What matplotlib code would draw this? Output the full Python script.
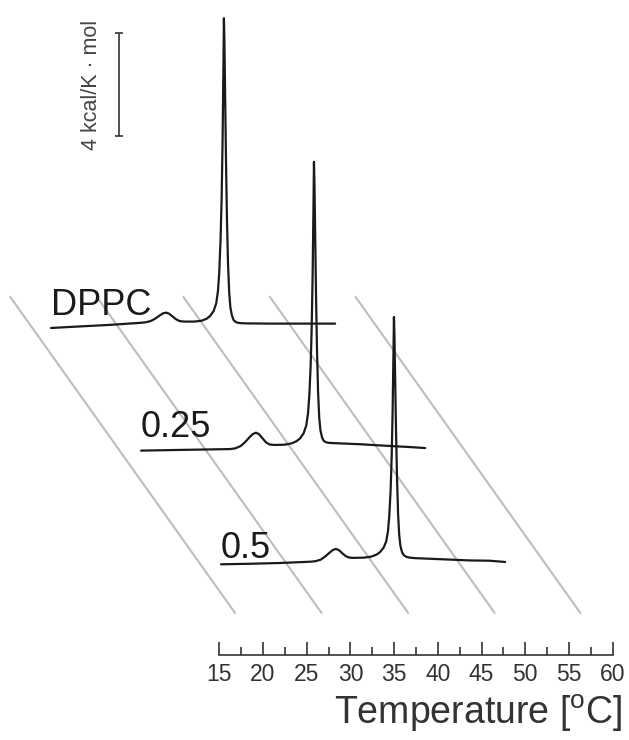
import matplotlib
matplotlib.use("Agg")
import matplotlib.pyplot as plt
from matplotlib.ticker import MultipleLocator

plt.rcParams['font.family'] = ['Liberation Sans', 'DejaVu Sans']
plt.rcParams['mathtext.default'] = 'regular'

# ---------------- data ----------------
labels = ["DPPC", "0.25", "0.5"]

# temperature grid of each thermogram (frame of the front trace), deg C
temps = [15.2, 18.5, 21.9, 25.4,
         26.0, 26.6, 27.1, 27.6, 28.0, 28.35, 28.7, 29.1, 29.5, 29.9, 30.4,
         31.6, 32.4, 33.0, 33.4, 33.8, 34.1, 34.3, 34.45, 34.6, 34.72, 34.83, 34.93,
         34.98,
         35.04, 35.12, 35.22, 35.33, 35.45, 35.58, 35.72, 35.9, 36.1, 36.4, 36.8, 37.4,
         40.2, 43.7, 45.9, 47.7]

# excess heat capacity, kcal/(K mol)
cp_dppc = [0.0, 0.06, 0.12, 0.20,
           0.22, 0.27, 0.36, 0.48, 0.57, 0.60, 0.56, 0.45, 0.34, 0.27, 0.25,
           0.25, 0.28, 0.36, 0.47, 0.66, 0.96, 1.45, 2.2, 3.5, 5.1, 7.4, 10.4,
           12.1,
           11.1, 9.0, 6.5, 4.2, 2.5, 1.4, 0.8, 0.48, 0.30, 0.22, 0.19, 0.18,
           0.17, 0.17, 0.17, 0.17]
cp_025 = [0.0, 0.02, 0.04, 0.06,
          0.09, 0.18, 0.33, 0.52, 0.65, 0.70, 0.64, 0.48, 0.32, 0.24, 0.22,
          0.23, 0.28, 0.37, 0.48, 0.68, 0.98, 1.45, 2.15, 3.3, 4.8, 6.9, 9.7,
          11.28,
          10.4, 8.4, 6.0, 3.9, 2.3, 1.3, 0.8, 0.52, 0.38, 0.32, 0.30, 0.29,
          0.25, 0.18, 0.14, 0.10]
cp_05 = [0.0, 0.02, 0.05, 0.10,
         0.12, 0.18, 0.30, 0.45, 0.56, 0.60, 0.55, 0.42, 0.31, 0.26, 0.25,
         0.26, 0.30, 0.38, 0.48, 0.65, 0.90, 1.3, 1.9, 2.9, 4.2, 6.0, 8.4,
         9.66,
         8.9, 7.2, 5.2, 3.4, 2.0, 1.15, 0.72, 0.48, 0.36, 0.29, 0.26, 0.24,
         0.20, 0.15, 0.14, 0.09]
cps = [cp_dppc, cp_025, cp_05]

# waterfall offsets of each trace (temperature shift, Cp shift)
offset_T = [-19.45, -9.15, 0.0]
offset_cp = [9.23, 4.44, 0.0]

# oblique guide lines (temperature where they meet the floor)
grid_T = [16.8, 26.7, 36.6, 46.5, 56.3]

# scale bar
scale_kcal = 4
scale_text = "4 kcal/K · mol"

# temperature axis
axis_min, axis_max = 15, 60
xlabel = "Temperature [$^{o}$C]"

# ---------------- style / layout ----------------
W, H = 629, 740
GRID_BOTTOM, GRID_TOP = -1.9, 10.44
DEPTH_SLOPE = -2.083          # deg C per kcal along depth direction
label_dy_pt = [9.4, 10.0, 4.5]
curve_color = '#1a1a1a'

fig = plt.figure(figsize=(W / 100, H / 100), dpi=100)
ax = fig.add_axes([0, 0, 1, 1])
ax.set_xlim(-10.086, 61.87)
ax.set_ylim(-6.863, 22.04)
ax.axis('off')

# guide lines
for T in grid_T:
    ax.plot([T, T + (GRID_TOP - GRID_BOTTOM) * DEPTH_SLOPE], [GRID_BOTTOM, GRID_TOP],
            color='#bdbdbd', lw=1.5, zorder=1, solid_capstyle='round')

# thermograms
for name, cp, dT, dC, dy in zip(labels, cps, offset_T, offset_cp, label_dy_pt):
    x = [t + dT for t in temps]
    y = [c + dC for c in cp]
    ax.plot(x, y, color=curve_color, lw=1.6, zorder=3,
            solid_joinstyle='round', solid_capstyle='round')
    ax.annotate(name, xy=(x[0], y[0]), xytext=(0, dy), textcoords='offset points',
                fontsize=26, ha='left', va='baseline', color='#1a1a1a')

# scale bar
sb_T, sb_bottom = 3.53, 16.74
ax.errorbar([sb_T], [sb_bottom + scale_kcal / 2], yerr=[scale_kcal / 2],
            fmt='none', ecolor='#333333', elinewidth=1.2, capsize=3, capthick=1.2)
ax.text(0.40, sb_bottom + scale_kcal / 2, scale_text, rotation=90,
        ha='center', va='center', fontsize=15.5, color='#444444')

# temperature axis
ax2 = fig.add_axes([219.3 / W, (H - 655) / H, (612.7 - 219.3) / W, 0.001])
ax2.set_xlim(axis_min, axis_max)
ax2.set_ylim(0, 1)
ax2.patch.set_alpha(0)
for s in ['top', 'left', 'right']:
    ax2.spines[s].set_visible(False)
ax2.spines['bottom'].set_color('#333333')
ax2.spines['bottom'].set_linewidth(1.2)
ax2.set_yticks([])
ax2.xaxis.set_major_locator(MultipleLocator(5))
ax2.xaxis.set_minor_locator(MultipleLocator(2.5))
ax2.tick_params(axis='x', which='major', direction='in', length=9.5, width=1.2,
                color='#333333', labelsize=16.5, labelcolor='#333333', pad=6)
ax2.tick_params(axis='x', which='minor', direction='in', length=6, width=1.2,
                color='#333333')
ax2.set_xlabel(xlabel, fontsize=27, color='#333333')
ax2.xaxis.set_label_coords(622 / W, (H - 713) / H, transform=fig.transFigure)
ax2.xaxis.label.set_ha('right')
ax2.xaxis.label.set_va('center')

fig.savefig('out.png', dpi=100)
